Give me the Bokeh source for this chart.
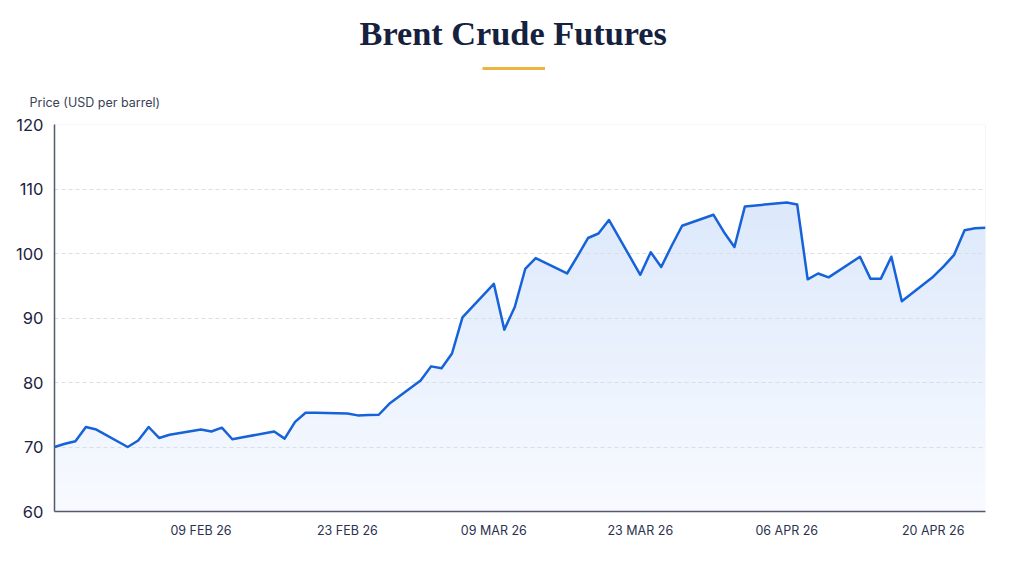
import numpy as np
import pandas as pd
from bokeh.plotting import figure
from bokeh.models import Range1d, FixedTicker, Title
from bokeh.embed import file_html
from bokeh.resources import INLINE

# ---- data ----
dates = [
    "2026-01-26", "2026-01-27", "2026-01-28", "2026-01-29", "2026-01-30",
    "2026-02-02", "2026-02-03", "2026-02-04", "2026-02-05", "2026-02-06",
    "2026-02-09", "2026-02-10", "2026-02-11", "2026-02-12", "2026-02-13",
    "2026-02-16", "2026-02-17", "2026-02-18", "2026-02-19", "2026-02-20",
    "2026-02-23", "2026-02-24", "2026-02-25", "2026-02-26", "2026-02-27",
    "2026-03-02", "2026-03-03", "2026-03-04", "2026-03-05", "2026-03-06",
    "2026-03-09", "2026-03-10", "2026-03-11", "2026-03-12", "2026-03-13",
    "2026-03-16", "2026-03-17", "2026-03-18", "2026-03-19", "2026-03-20",
    "2026-03-23", "2026-03-24", "2026-03-25", "2026-03-26", "2026-03-27",
    "2026-03-30", "2026-03-31", "2026-04-01", "2026-04-02",
    "2026-04-06", "2026-04-07", "2026-04-08", "2026-04-09", "2026-04-10",
    "2026-04-13", "2026-04-14", "2026-04-15", "2026-04-16", "2026-04-17",
    "2026-04-20", "2026-04-21", "2026-04-22", "2026-04-23", "2026-04-24",
    "2026-04-25",
]
prices = [
    70.0, 70.5, 70.9, 73.1, 72.7,
    70.0, 71.0, 73.1, 71.4, 71.9,
    72.7, 72.4, 73.0, 71.2, 71.5,
    72.4, 71.3, 73.9, 75.3, 75.3,
    75.2, 74.9, 74.95, 75.0, 76.7,
    80.3, 82.5, 82.2, 84.5, 90.1,
    95.3, 88.2, 91.7, 97.6, 99.3,
    96.9, 99.6, 102.4, 103.1, 105.2,
    96.7, 100.2, 97.9, 101.2, 104.3,
    106.0, 103.3, 101.0, 107.3,
    107.9, 107.6, 96.0, 96.9, 96.3,
    99.5, 96.1, 96.1, 99.5, 92.6,
    96.4, 98.0, 99.8, 103.6, 103.9,
    104.0,
]
tick_dates = ["2026-02-09", "2026-02-23", "2026-03-09", "2026-03-23", "2026-04-06", "2026-04-20"]
tick_labels = ["09 FEB 26", "23 FEB 26", "09 MAR 26", "23 MAR 26", "06 APR 26", "20 APR 26"]
y_ticks = [60, 70, 80, 90, 100, 110, 120]

title_text = "Brent Crude Futures"
y_label_text = "Price (USD per barrel)"

# ---- build ----
x = pd.to_datetime(dates)
y = np.array(prices)
tick_ms = [pd.Timestamp(d).value / 1e6 for d in tick_dates]
Y0, Y1 = 60, 120

p = figure(width=1008, height=546, x_axis_type="datetime",
           output_backend="svg", toolbar_location=None,
           min_border_left=54, min_border_right=23,
           min_border_top=124, min_border_bottom=35)
p.x_range = Range1d(start=x[0], end=x[-1])
p.y_range = Range1d(start=Y0, end=Y1)
p.outline_line_color = None
p.background_fill_color = "white"
p.border_fill_color = "white"

# vertical gradient under the curve: gradient image, then white mask above the line
bottom_rgb = np.array([249, 251, 255])
top_rgb = np.array([212, 227, 250])
rows = 256
tt = np.linspace(0, 1, rows)[:, None]
cols = (bottom_rgb[None, :] * (1 - tt) + top_rgb[None, :] * tt).round().astype(np.uint32)
rgba = (255 << 24) | (cols[:, 2] << 16) | (cols[:, 1] << 8) | cols[:, 0]
img = np.repeat(rgba[:, None], 2, axis=1).astype(np.uint32)
x0_ms = pd.Timestamp(dates[0]).value / 1e6
x1_ms = pd.Timestamp(dates[-1]).value / 1e6
span_ms = x1_ms - x0_ms
p.image_rgba(image=[img], x=x0_ms - 0.02 * span_ms, y=Y0 - 2, dw=1.04 * span_ms,
             dh=(Y1 - Y0) + 4, level="image")
p.varea(x=x, y1=y, y2=Y1 + 3, fill_color="white", fill_alpha=1.0, level="image")

p.line(x=x, y=y, line_color="#1662d8", line_width=2.5, line_join="round")

# axes
p.xaxis.ticker = FixedTicker(ticks=tick_ms)
p.xaxis.major_label_overrides = {t: l for t, l in zip(tick_ms, tick_labels)}
p.yaxis.ticker = FixedTicker(ticks=y_ticks)
for ax in (p.xaxis[0], p.yaxis[0]):
    ax.axis_line_color = "#535a6e"
    ax.axis_line_width = 1.5
    ax.major_tick_line_color = None
    ax.minor_tick_line_color = None
    ax.major_tick_out = 0
    ax.major_tick_in = 0
p.xaxis.major_label_text_font = "Inter"
p.xaxis.major_label_text_font_size = "12.5px"
p.xaxis.major_label_text_color = "#2a3250"
p.xaxis.major_label_standoff = 11
p.yaxis.major_label_text_font = "Inter"
p.yaxis.major_label_text_font_size = "16.5px"
p.yaxis.major_label_text_color = "#1b2440"
p.yaxis.major_label_standoff = 11

p.xgrid.grid_line_color = None
p.ygrid.grid_line_color = "#d9dde6"
p.ygrid.grid_line_dash = "4 3"
p.ygrid.grid_line_width = 1

# captions stacked above the frame (first added = nearest the frame)
p.add_layout(Title(text=y_label_text, align="left", offset=-25, standoff=29,
                   text_font="Inter", text_font_size="12.5px", text_font_style="normal",
                   text_color="#3a4258"), "above")
p.add_layout(Title(text="\u2002", align="left", offset=428, standoff=17,
                   text_font_size="1px", text_color="#edb443",
                   background_fill_color="#edb443", padding=(31, 1)), "above")
p.add_layout(Title(text=title_text, align="left", offset=305, standoff=10,
                   text_font="Liberation Serif", text_font_style="bold", text_font_size="34.3px",
                   text_color="#15213d"), "above")

open("out.html", "w").write(file_html(p, INLINE))
